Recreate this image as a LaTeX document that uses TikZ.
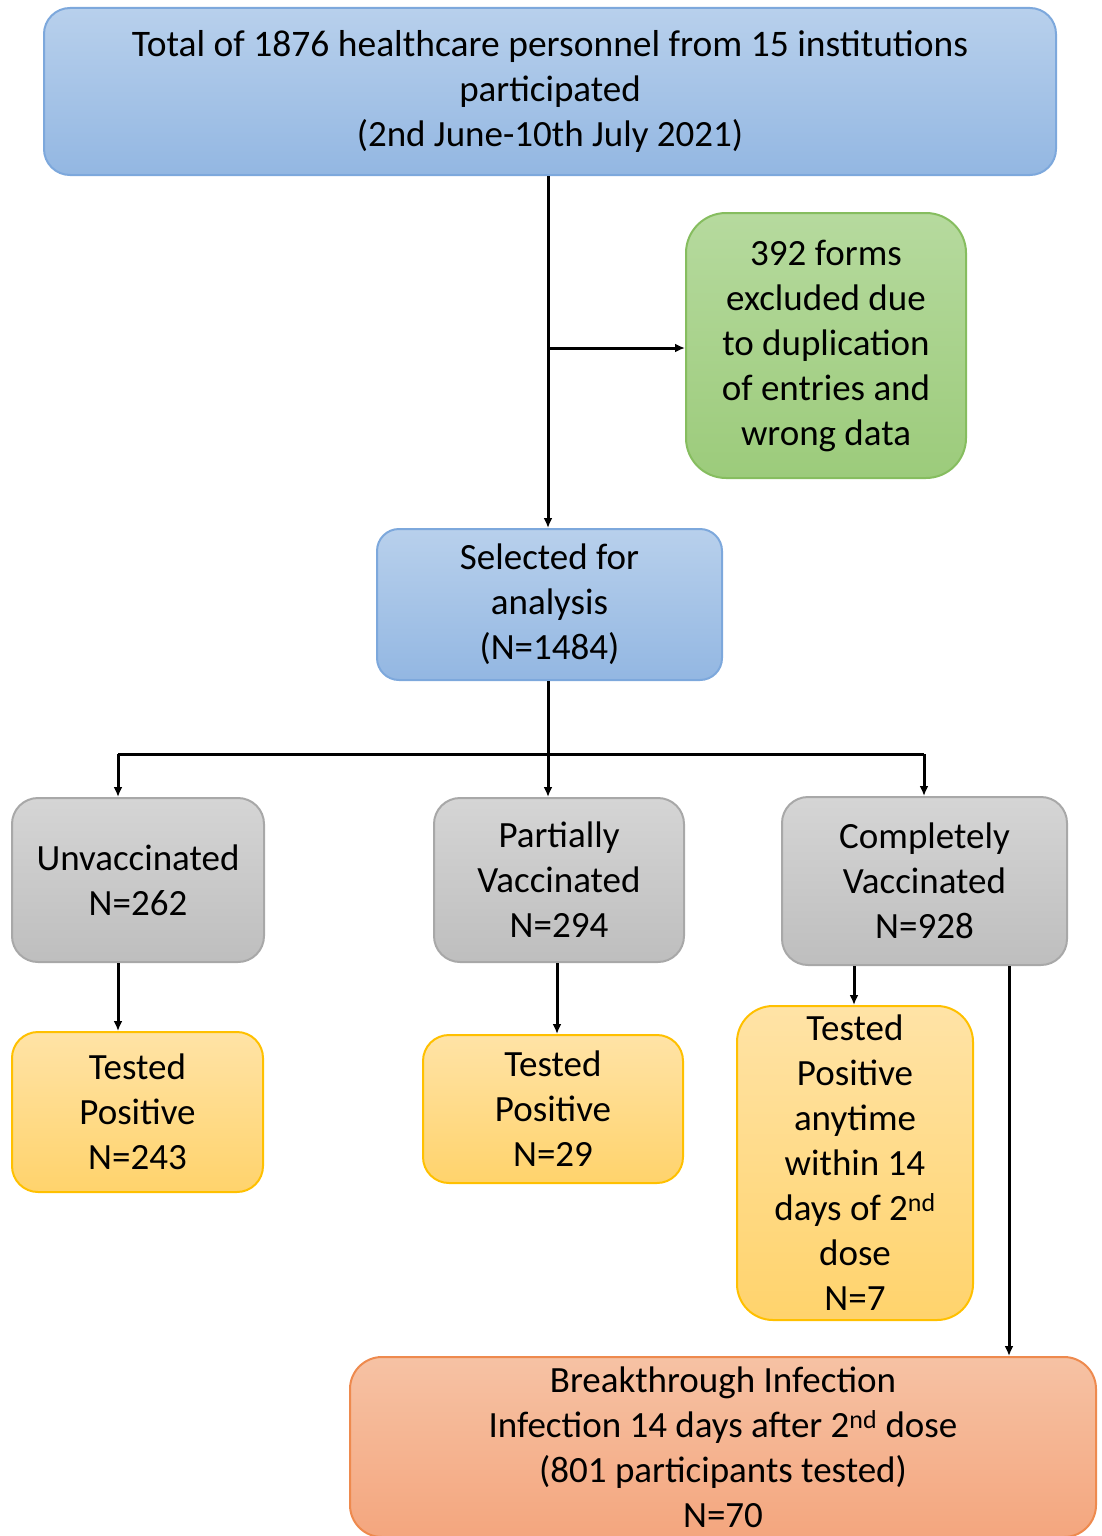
\documentclass[tikz,border=0pt]{standalone}
\usepackage{fontspec}
\setmainfont{Carlito}
\usetikzlibrary{arrows.meta}
\definecolor{blueT}{HTML}{B8D0EC}
\definecolor{blueB}{HTML}{93B7E2}
\definecolor{blueD}{HTML}{7DA8DC}
\definecolor{greenT}{HTML}{B6DA9E}
\definecolor{greenB}{HTML}{9CCB7B}
\definecolor{greenD}{HTML}{86BD5F}
\definecolor{grayT}{HTML}{D5D5D5}
\definecolor{grayB}{HTML}{BEBEBE}
\definecolor{grayD}{HTML}{A8A8A8}
\definecolor{yelT}{HTML}{FFE3A6}
\definecolor{yelB}{HTML}{FFD36C}
\definecolor{yelD}{HTML}{FFC000}
\definecolor{orT}{HTML}{F6C2A4}
\definecolor{orB}{HTML}{F4A67E}
\definecolor{orD}{HTML}{EE8A4E}
\tikzset{
  box/.style={rectangle, inner sep=0pt, align=center, line width=2pt,
    font=\fontsize{37}{45}\selectfont},
  bluebox/.style={box, draw=blueD, top color=blueT, bottom color=blueB},
  greenbox/.style={box, draw=greenD, top color=greenT, bottom color=greenB},
  graybox/.style={box, draw=grayD, top color=grayT, bottom color=grayB},
  yelbox/.style={box, draw=yelD, top color=yelT, bottom color=yelB},
  orbox/.style={box, draw=orD, top color=orT, bottom color=orB},
  arr/.style={line width=3pt, -{Latex[length=10pt,width=9pt]}},
  ln/.style={line width=3pt}
}
\begin{document}
\begin{tikzpicture}[x=1pt,y=-1pt]
\useasboundingbox (0,0) rectangle (1102,1536);
\node[bluebox, rounded corners=26pt, minimum width=1012pt, minimum height=167pt] (top) at (550,91.5)
  {\fontsize{37.5}{45}\selectfont Total of 1876 healthcare personnel from 15 institutions\\participated\\(2nd June-10th July 2021)};
\node[greenbox, rounded corners=40pt, minimum width=280pt, minimum height=265pt] (excl) at (826,345.5)
  {392 forms\\excluded due\\to duplication\\of entries and\\wrong data};
\node[bluebox, rounded corners=22pt, minimum width=345pt, minimum height=151pt] (sel) at (549.5,604.5)
  {Selected for\\analysis\\(N=1484)};
\node[graybox, rounded corners=26pt, minimum width=252pt, minimum height=164pt] (unv) at (138,880)
  {Unvaccinated\\N=262};
\node[graybox, rounded corners=26pt, minimum width=250pt, minimum height=164pt] (part) at (559,880)
  {Partially\\Vaccinated\\N=294};
\node[graybox, rounded corners=26pt, minimum width=285pt, minimum height=168pt] (comp) at (924.5,881)
  {Completely\\Vaccinated\\N=928};
\node[yelbox, rounded corners=26pt, minimum width=251pt, minimum height=160pt] (tpa) at (137.5,1112)
  {Tested\\Positive\\N=243};
\node[yelbox, rounded corners=26pt, minimum width=260pt, minimum height=148pt] (tpb) at (553,1109)
  {Tested\\Positive\\N=29};
\node[yelbox, rounded corners=36pt, minimum width=236pt, minimum height=314pt] (tpc) at (855,1163)
  {Tested\\Positive\\anytime\\within 14\\days of 2\textsuperscript{nd}\\dose\\N=7};
\node[orbox, rounded corners=32pt, minimum width=746pt, minimum height=180pt] (bt) at (723,1447)
  {Breakthrough Infection\\Infection 14 days after 2\textsuperscript{nd} dose\\(801 participants tested)\\N=70};
% connectors
\coordinate (mx) at (548,348);
\draw[arr] (top.south -| mx) -- (sel.north -| mx);
\draw[arr] (mx) -- (mx -| excl.west);
\coordinate (bar) at (548,754);
\coordinate (bL) at (118,754);
\coordinate (bR) at (924,754);
\draw[ln] (sel.south -| bar) -- (bar);
\draw[ln] (bL) -- (bR);
\draw[arr] (bL) -- (bL |- unv.north);
\draw[arr] (bar) -- (bar |- part.north);
\draw[arr] (bR) -- (bR |- comp.north);
\coordinate (ca) at (118,1000);
\coordinate (cb) at (557,1000);
\coordinate (cc) at (854,1000);
\coordinate (cd) at (1009,1000);
\draw[arr] (unv.south -| ca) -- (tpa.north -| ca);
\draw[arr] (part.south -| cb) -- (tpb.north -| cb);
\draw[arr] (comp.south -| cc) -- (tpc.north -| cc);
\draw[arr] (comp.south -| cd) -- (bt.north -| cd);
\end{tikzpicture}
\end{document}
